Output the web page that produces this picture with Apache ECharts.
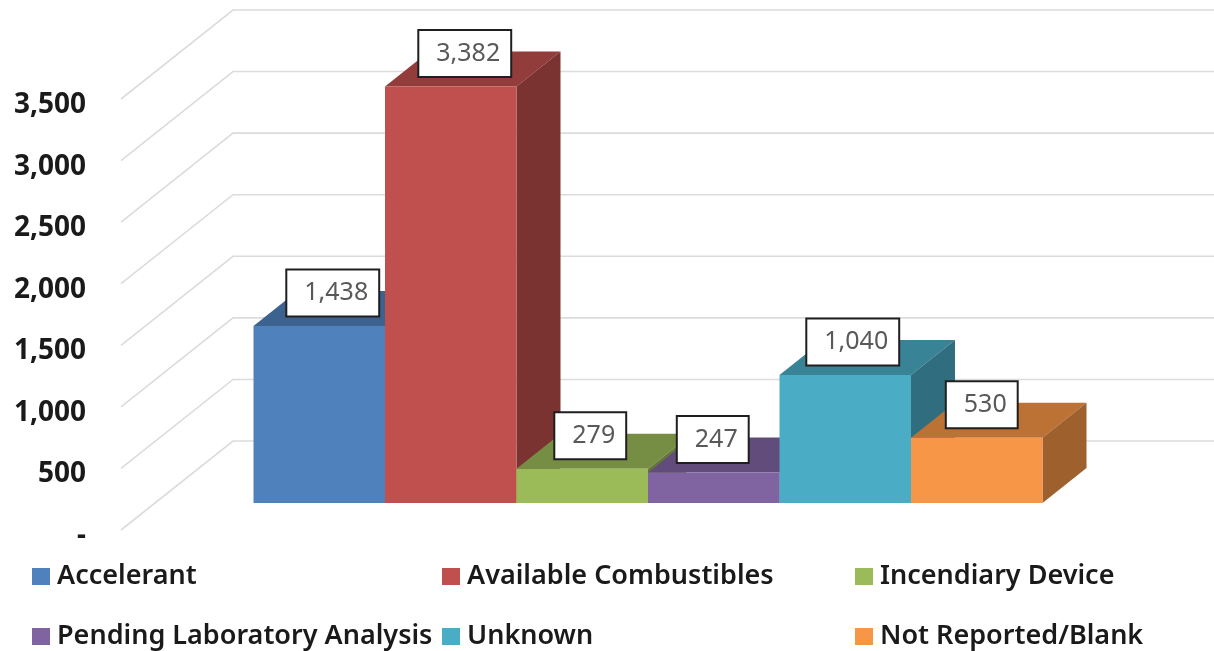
<!DOCTYPE html>
<html>
<head>
<meta charset="utf-8">
<title>Fire cause totals</title>
<style>
  html, body { margin: 0; padding: 0; background: #fff; }
  #chart { width: 1214px; height: 651px; }
</style>
<script src="https://cdn.jsdelivr.net/npm/echarts@6/dist/echarts.min.js"></script>
</head>
<body>
<div id="chart"></div>
<script>
const categories = ['Accelerant', 'Available Combustibles', 'Incendiary Device', 'Pending Laboratory Analysis', 'Unknown', 'Not Reported/Blank'];
const values = [1438, 3382, 279, 247, 1040, 530];
const colors = ['#4F81BD', '#C0504D', '#9BBB59', '#8064A2', '#4BACC6', '#F79646'];
const yTicks = [0, 500, 1000, 1500, 2000, 2500, 3000, 3500];
// Horizontal nudge of each value box away from the middle of its column
const boxNudge = [13.5, 14, 8, -1, 7.5, 5];

// Oblique projection: wall depth and column depth, in pixels
const WALL_DEPTH = [112, -89];
const FLOOR_INSET = [34, 27];
const BAR_DEPTH = [44, -35];
const SIDE_WALL_OFFSET = 98.5;
const FONT = '"Noto Sans", sans-serif';

function shade(hex, k) {
  const n = parseInt(hex.slice(1), 16);
  const c = [n >> 16, (n >> 8) & 255, n & 255].map(v => Math.round(v * k));
  return 'rgb(' + c.join(',') + ')';
}

function poly(points, fill, z2) {
  return { type: 'polygon', z2, shape: { points }, style: { fill, stroke: null } };
}

// Side wall diagonal plus back wall line for one axis tick
function renderGridline(params, api) {
  const left = params.coordSys.x - SIDE_WALL_OFFSET;
  const y = api.coord([0, api.value(0)])[1];
  return {
    type: 'polyline',
    shape: { points: [[left, y], [left + WALL_DEPTH[0], y + WALL_DEPTH[1]], [api.getWidth(), y + WALL_DEPTH[1]]] },
    style: { stroke: '#dcdcdc', lineWidth: 1.6, fill: null }
  };
}

// One extruded column: front, top and right faces, then its value box
function renderColumn(params, api) {
  const idx = api.value(0);
  const val = api.value(1);
  const band = api.size([1, 0])[0];
  const top = api.coord([idx, val]);
  const base = api.coord([idx, 0]);
  const yTop = top[1] - FLOOR_INSET[1];
  const yBase = base[1] - FLOOR_INSET[1];
  const x0 = top[0] - band / 2 + FLOOR_INSET[0];
  const x1 = x0 + band;
  const dx = BAR_DEPTH[0], dy = BAR_DEPTH[1];
  const color = colors[idx];
  const z = params.seriesIndex * 3;
  return {
    type: 'group',
    children: [
      poly([[x0, yTop], [x0 + dx, yTop + dy], [x1 + dx, yTop + dy], [x1, yTop]], shade(color, 0.76), z),
      poly([[x1, yTop], [x1 + dx, yTop + dy], [x1 + dx, yBase + dy], [x1, yBase]], shade(color, 0.64), z + 1),
      poly([[x0, yTop], [x1, yTop], [x1, yBase], [x0, yBase]], color, z + 2),
      {
        type: 'text',
        z2: 100,
        style: {
          x: (x0 + x1) / 2 + boxNudge[idx],
          y: yTop - 33,
          text: val.toLocaleString('en-US'),
          align: 'center',
          verticalAlign: 'middle',
          font: '25px ' + FONT,
          fill: '#595959',
          backgroundColor: '#fff',
          borderColor: '#1f1f1f',
          borderWidth: 2,
          padding: [10, 10, 10, 17]
        }
      }
    ]
  };
}

const columnSeries = categories.map((name, i) => ({
  name,
  type: 'custom',
  renderItem: renderColumn,
  encode: { x: 0, y: 1 },
  itemStyle: { color: colors[i] },
  data: [[i, values[i]]],
  z: 3
}));

const gridSeries = {
  type: 'custom',
  renderItem: renderGridline,
  silent: true,
  encode: { y: 0 },
  data: yTicks.map(t => [t]),
  z: 1
};

// Legend slots sit in a fixed three-column, two-row arrangement
const legendColumns = [32, 442, 855];
const legendRows = [563, 623];
const legends = categories.map((name, i) => ({
  data: [name],
  left: legendColumns[i % 3],
  top: legendRows[Math.floor(i / 3)],
  padding: 0,
  icon: 'rect',
  itemWidth: 18,
  itemHeight: 17,
  itemGap: 7,
  selectedMode: false,
  textStyle: { color: '#1a1a1a', fontFamily: FONT, fontWeight: 600, fontSize: 27, padding: [1, 0, 0, 2] }
}));

const chart = echarts.init(document.getElementById('chart'), null, { renderer: 'canvas' });
chart.setOption({
  animation: false,
  backgroundColor: '#fff',
  grid: { left: 219.5, right: 205.5, top: 99, bottom: 121 },
  xAxis: { type: 'category', data: categories, show: false },
  yAxis: {
    type: 'value',
    min: 0,
    max: 3500,
    interval: 500,
    offset: SIDE_WALL_OFFSET,
    axisLine: { show: false },
    axisTick: { show: false },
    splitLine: { show: false },
    axisLabel: {
      margin: 35,
      color: '#1a1a1a',
      fontFamily: FONT,
      fontWeight: 700,
      fontSize: 28,
      verticalAlign: 'top',
      lineHeight: 12,
      formatter: v => (v === 0 ? '-' : v.toLocaleString('en-US'))
    }
  },
  legend: legends,
  series: [gridSeries].concat(columnSeries)
});
</script>
</body>
</html>
